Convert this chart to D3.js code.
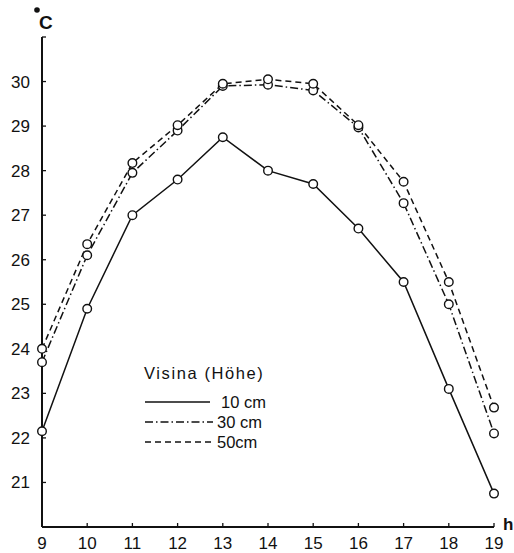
<!DOCTYPE html>
<html>
<head>
<meta charset="utf-8">
<script src="https://cdn.jsdelivr.net/npm/d3@7"></script>
<style>
  html, body { margin: 0; padding: 0; background: #fff; }
  svg { display: block; }
  text { font-family: "Liberation Sans", Arial, sans-serif; fill: #111; }
</style>
</head>
<body>
<svg id="chart" width="514" height="553"></svg>
<script>
// Hours of the day (h)
const hours = [9, 10, 11, 12, 13, 14, 15, 16, 17, 18, 19];
// Air temperature (°C) at three heights
const temp10 = [22.15, 24.9, 27.0, 27.8, 28.75, 28.0, 27.7, 26.7, 25.5, 23.1, 20.75];
const temp30 = [23.7, 26.1, 27.95, 28.9, 29.9, 29.93, 29.8, 28.97, 27.27, 25.0, 22.1];
const temp50 = [24.0, 26.35, 28.17, 29.02, 29.95, 30.05, 29.95, 29.02, 27.75, 25.5, 22.68];
// Axis tick labels
const xTicks = [9, 10, 11, 12, 13, 14, 15, 16, 17, 18, 19];
const yTicks = [21, 22, 23, 24, 25, 26, 27, 28, 29, 30];
// Legend entries
const legendTitle = "Visina (Höhe)";
const seriesNames = ["10 cm", "30 cm", "50cm"];

const svg = d3.select("#chart");
const x = d3.scaleLinear().domain([9, 19]).range([42, 494]);
const y = d3.scaleLinear().domain([20, 31]).range([527, 37]);

const dashes = [null, "8,3,1.5,3", "6,4"];
const series = [temp10, temp30, temp50];

// Axes
const axisG = svg.append("g");
axisG.append("line")
  .attr("x1", x(9)).attr("x2", x(9)).attr("y1", y(31)).attr("y2", y(20))
  .attr("stroke", "#111").attr("stroke-width", 2);
axisG.append("line")
  .attr("x1", x(9)).attr("x2", x(19)).attr("y1", y(20)).attr("y2", y(20))
  .attr("stroke", "#111").attr("stroke-width", 2);

// Y ticks (inward) including the top cap
axisG.selectAll(".yt").data(yTicks.concat([31])).join("line")
  .attr("x1", x(9)).attr("x2", x(9) + 4)
  .attr("y1", d => y(d)).attr("y2", d => y(d))
  .attr("stroke", "#111").attr("stroke-width", 1.3);
axisG.selectAll(".yl").data(yTicks).join("text")
  .attr("x", 30).attr("y", d => y(d) + 6)
  .attr("text-anchor", "end")
  .attr("font-size", 17)
  .text(d => d);

// X ticks (inward)
axisG.selectAll(".xt").data(xTicks).join("line")
  .attr("x1", d => x(d)).attr("x2", d => x(d))
  .attr("y1", y(20)).attr("y2", y(20) - 4)
  .attr("stroke", "#111").attr("stroke-width", 1.3);
axisG.selectAll(".xl").data(xTicks).join("text")
  .attr("x", d => x(d)).attr("y", 549)
  .attr("text-anchor", "middle")
  .attr("font-size", 17)
  .text(d => d);

// Unit labels
svg.append("circle").attr("cx", 37).attr("cy", 10).attr("r", 2.8).attr("fill", "#111");
svg.append("text").attr("x", 39).attr("y", 29)
  .attr("font-size", 19).attr("font-weight", "bold").text("C");
svg.append("text").attr("x", 503).attr("y", 530)
  .attr("font-size", 17).attr("font-weight", "bold").text("h");

// Series lines
const line = d3.line().x((d, i) => x(hours[i])).y(d => y(d));
series.forEach((s, k) => {
  svg.append("path")
    .attr("d", line(s))
    .attr("fill", "none")
    .attr("stroke", "#111")
    .attr("stroke-width", 1.5)
    .attr("stroke-dasharray", dashes[k]);
});
// Open circle markers
series.forEach(s => {
  svg.append("g").selectAll("circle").data(s).join("circle")
    .attr("cx", (d, i) => x(hours[i]))
    .attr("cy", d => y(d))
    .attr("r", 4.3)
    .attr("fill", "#fff")
    .attr("stroke", "#111")
    .attr("stroke-width", 1.4);
});

// Legend
const lg = svg.append("g");
lg.append("text").attr("x", 144).attr("y", 379)
  .attr("font-size", 16.5).attr("letter-spacing", 1.6)
  .text(legendTitle);
const lgY = [402, 422, 442];
seriesNames.forEach((name, k) => {
  lg.append("line")
    .attr("x1", 145).attr("x2", k === 0 ? 210 : 213)
    .attr("y1", lgY[k]).attr("y2", lgY[k])
    .attr("stroke", "#111").attr("stroke-width", 1.5)
    .attr("stroke-dasharray", dashes[k]);
  lg.append("text")
    .attr("x", k === 0 ? 221 : 217).attr("y", lgY[k] + 6)
    .attr("font-size", 16.5)
    .text(name);
});
</script>
</body>
</html>
